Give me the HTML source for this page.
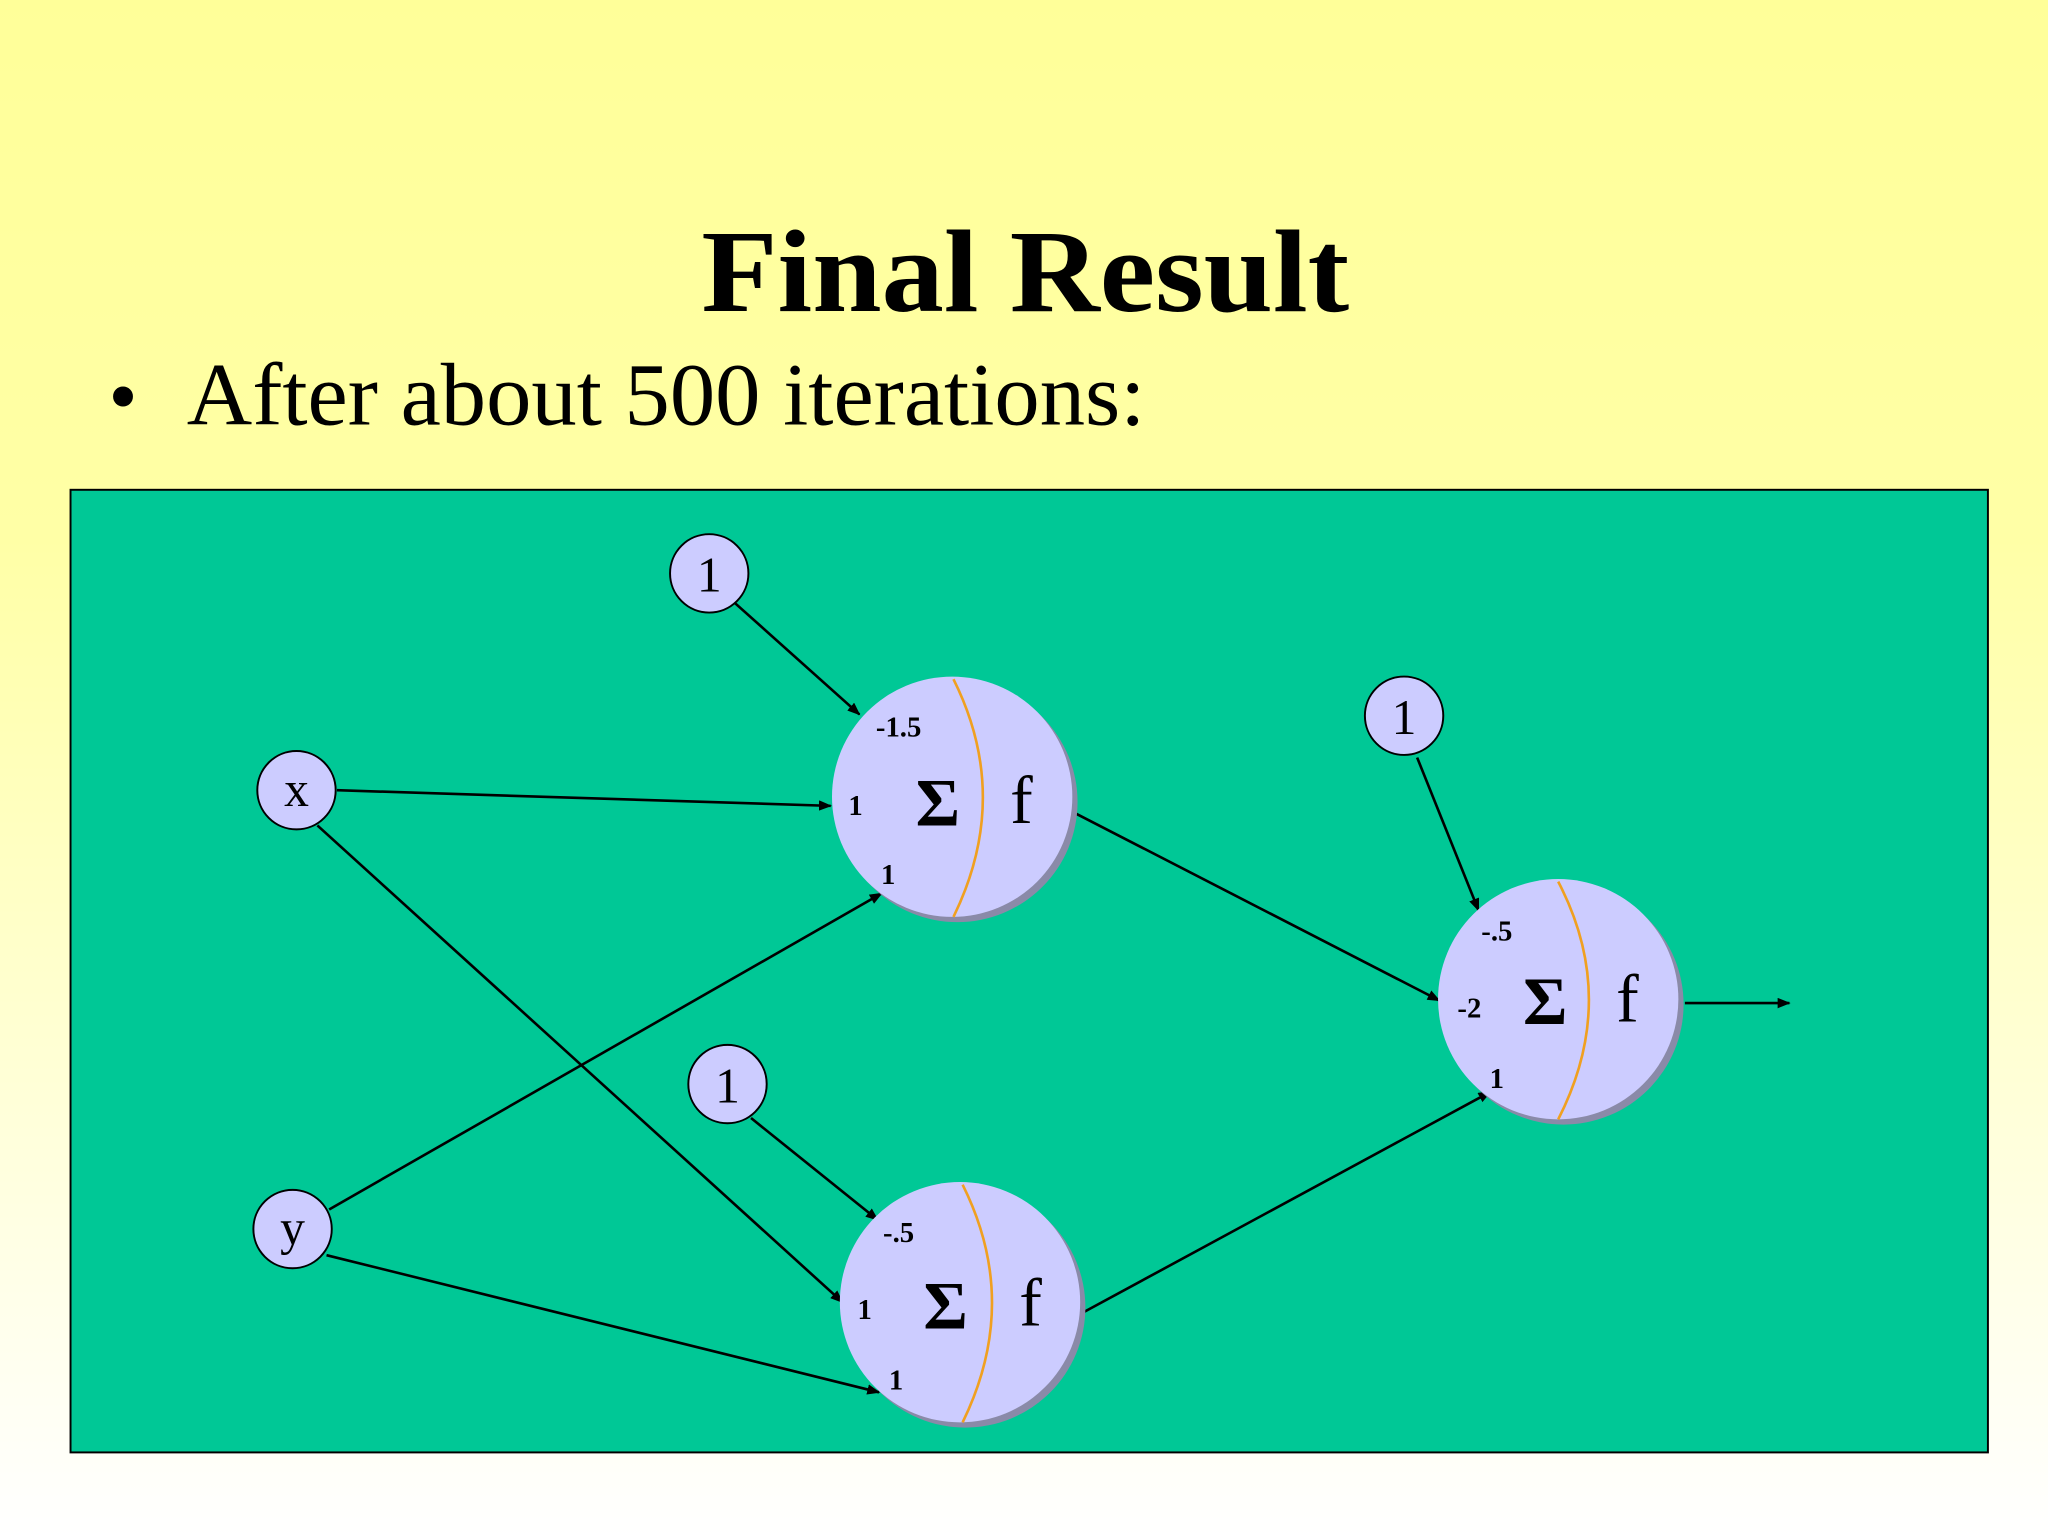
<!DOCTYPE html>
<html><head><meta charset="utf-8"><style>
html,body{margin:0;padding:0;width:2048px;height:1536px;overflow:hidden}
svg{display:block}
</style></head><body>
<svg width="2048" height="1536" viewBox="0 0 1568 1176" xmlns="http://www.w3.org/2000/svg">
<defs>
<linearGradient id="bg" x1="0" y1="0" x2="0" y2="1">
<stop offset="0" stop-color="#ffff99"/>
<stop offset="0.35" stop-color="#ffffa6"/>
<stop offset="1" stop-color="#ffffff"/>
</linearGradient>
<marker id="ah" markerWidth="10" markerHeight="8" refX="9" refY="4" orient="auto" markerUnits="userSpaceOnUse">
<path d="M0,0 L10,4 L0,8 Z" fill="#000"/>
</marker>
</defs>
<rect width="1568" height="1176" fill="url(#bg)"/>
<text x="785" y="238" text-anchor="middle" font-family="Liberation Serif, serif" font-weight="bold" font-size="90" textLength="496" lengthAdjust="spacingAndGlyphs">Final Result</text>
<text x="83" y="325" font-family="Liberation Serif, serif" font-size="64">•</text>
<text x="143" y="325" font-family="Liberation Serif, serif" font-size="68" textLength="734" lengthAdjust="spacingAndGlyphs">After about 500 iterations:</text>
<rect x="54" y="375" width="1468" height="737" fill="#00c896" stroke="#000" stroke-width="1.5"/>
<g stroke="#000" stroke-width="2" marker-end="url(#ah)">
<line x1="563" y1="462" x2="658" y2="547"/>
<line x1="258" y1="605" x2="636" y2="617"/>
<line x1="243" y1="632" x2="645" y2="997"/>
<line x1="252" y1="926" x2="675" y2="684"/>
<line x1="250" y1="961" x2="673" y2="1066"/>
<line x1="575" y1="856" x2="672" y2="934"/>
<line x1="822" y1="622" x2="1102" y2="766"/>
<line x1="829" y1="1005" x2="1141" y2="836"/>
<line x1="1085" y1="580" x2="1132" y2="697"/>
<line x1="1290" y1="768" x2="1370" y2="768"/>
</g>
<g fill="#ccccff" stroke="#000" stroke-width="1.5" font-family="Liberation Serif, serif">
<circle cx="543" cy="439" r="30"/>
<circle cx="227" cy="605" r="30"/>
<circle cx="224" cy="941" r="30"/>
<circle cx="557" cy="830" r="30"/>
<circle cx="1075" cy="548" r="30"/>
</g>
<g font-family="Liberation Serif, serif" font-size="38" text-anchor="middle">
<text x="543" y="453">1</text>
<text x="227" y="617">x</text>
<text x="224" y="953">y</text>
<text x="557" y="844">1</text>
<text x="1075" y="562">1</text>
</g>
<g>
<circle cx="733" cy="614" r="92" fill="#8a8aa8"/>
<circle cx="729" cy="610" r="92" fill="#ccccff"/>
<path d="M730,520 Q775,610 730,702" fill="none" stroke="#f0a020" stroke-width="2"/>
<circle cx="739" cy="1001" r="92" fill="#8a8aa8"/>
<circle cx="735" cy="997" r="92" fill="#ccccff"/>
<path d="M737,907 Q782,997 737,1089" fill="none" stroke="#f0a020" stroke-width="2"/>
<circle cx="1197" cy="769" r="92" fill="#8a8aa8"/>
<circle cx="1193" cy="765" r="92" fill="#ccccff"/>
<path d="M1193,675 Q1240,765 1193,857" fill="none" stroke="#f0a020" stroke-width="2"/>
</g>
<g font-family="Liberation Serif, serif" font-weight="bold" font-size="22" text-anchor="middle">
<text x="688" y="564">-1.5</text>
<text x="655" y="624">1</text>
<text x="680" y="677">1</text>
<text x="688" y="951">-.5</text>
<text x="662" y="1010">1</text>
<text x="686" y="1064">1</text>
<text x="1146" y="720">-.5</text>
<text x="1125" y="779">-2</text>
<text x="1146" y="833">1</text>
</g>
<g font-family="Liberation Serif, serif" font-size="52" text-anchor="middle">
<text x="718" y="632" font-weight="bold">Σ</text>
<text x="782" y="630">f</text>
<text x="724" y="1017" font-weight="bold">Σ</text>
<text x="789" y="1015">f</text>
<text x="1183" y="784" font-weight="bold">Σ</text>
<text x="1246" y="782">f</text>
</g>
</svg>
</body></html>
